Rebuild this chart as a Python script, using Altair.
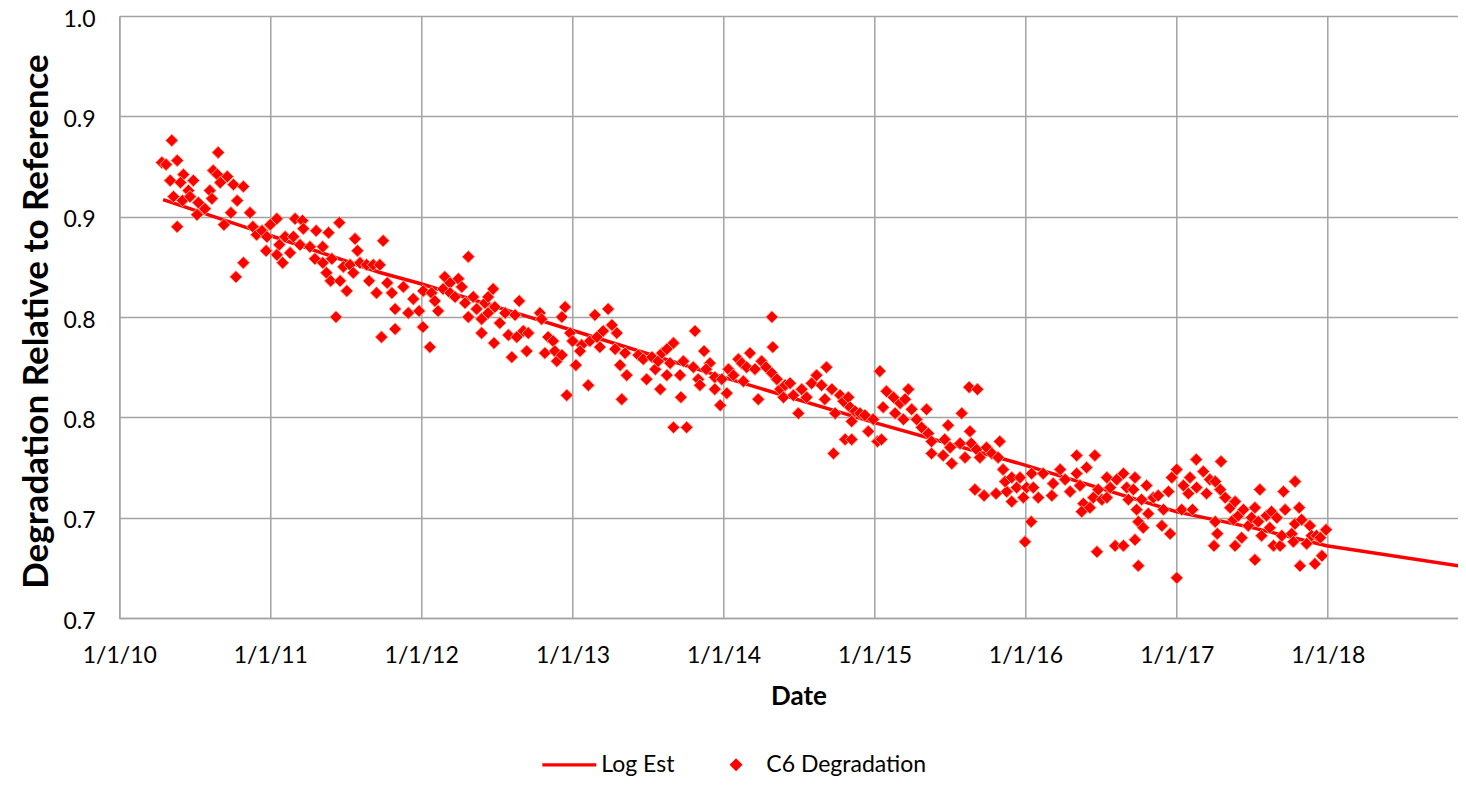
import altair as alt
import pandas as pd

# ---------------- data ----------------
# C6 Degradation points: time offset in years since 1/1/2010, and value
c6_year_offset = [
    0.281, 0.309, 0.347, 0.384, 0.655, 0.336, 0.424, 0.406, 0.490, 0.457,
    0.358, 0.420, 0.468, 0.523, 0.567, 0.516, 0.600, 0.612, 0.622, 0.649,
    0.715, 0.667, 0.755, 0.821, 0.781, 0.738, 0.693, 0.384, 0.865, 0.821,
    0.773, 0.883, 0.910, 0.945, 0.978, 0.998, 1.042, 0.971, 1.042, 1.082,
    1.097, 1.059, 1.130, 1.152, 1.163, 1.214, 1.218, 1.196, 1.262, 1.302,
    1.347, 1.384, 1.456, 1.296, 1.347, 1.406, 1.373, 1.400, 1.461, 1.505,
    1.483, 1.527, 1.560, 1.576, 1.594, 1.549, 1.638, 1.655, 1.704, 1.682,
    1.726, 1.748, 1.774, 1.803, 1.825, 1.737, 1.825, 1.435, 2.311, 1.880,
    1.913, 1.946, 1.986, 2.009, 2.057, 2.013, 2.068, 2.090, 2.112, 2.156,
    2.145, 2.189, 2.189, 2.222, 2.244, 2.267, 2.289, 2.311, 2.344, 2.366,
    2.399, 2.399, 2.421, 2.443, 2.476, 2.443, 2.487, 2.481, 2.520, 2.554,
    2.575, 2.620, 2.648, 2.598, 2.631, 2.675, 2.708, 2.697, 2.785, 2.796,
    2.818, 2.840, 2.873, 2.884, 2.896, 2.929, 2.951, 2.929, 2.962, 2.984,
    3.002, 3.023, 3.061, 3.050, 3.105, 3.116, 3.149, 3.161, 3.182, 3.204,
    3.237, 3.260, 3.293, 3.282, 3.315, 3.348, 3.359, 3.326, 3.436, 3.469,
    3.492, 3.525, 3.547, 3.568, 3.580, 3.591, 3.624, 3.668, 3.646, 3.624,
    3.668, 3.712, 3.717, 3.734, 3.756, 3.811, 3.800, 3.833, 3.844, 3.871,
    3.911, 3.884, 3.943, 3.943, 3.977, 3.988, 4.021, 4.032, 4.065, 4.098,
    4.120, 4.131, 4.175, 4.154, 4.209, 4.230, 4.253, 4.281, 4.319, 4.326,
    4.319, 4.352, 4.374, 4.407, 4.396, 4.440, 4.462, 4.495, 4.518, 4.551,
    4.584, 4.617, 4.650, 4.683, 4.672, 4.716, 4.738, 4.771, 4.793, 4.826,
    4.837, 4.804, 4.849, 4.727, 4.871, 4.849, 4.904, 4.937, 4.959, 4.992,
    5.018, 5.036, 5.058, 5.080, 5.124, 5.135, 5.047, 5.168, 5.190, 5.223,
    5.202, 5.246, 5.279, 5.312, 5.345, 5.356, 5.378, 5.378, 5.455, 5.466,
    5.488, 5.499, 5.511, 5.577, 5.566, 5.599, 5.627, 5.680, 5.632, 5.640,
    5.676, 5.698, 5.742, 5.776, 5.830, 5.819, 5.852, 5.665, 5.725, 5.804,
    5.875, 5.908, 5.864, 5.908, 5.941, 5.963, 5.985, 6.007, 6.040, 6.051,
    6.084, 6.036, 5.996, 6.117, 6.173, 6.183, 6.228, 6.261, 6.294, 6.338,
    6.338, 6.459, 6.404, 6.360, 6.382, 6.371, 6.426, 6.448, 6.481, 6.471,
    6.504, 6.537, 6.537, 6.559, 6.603, 6.592, 6.647, 6.647, 6.669, 6.680,
    6.724, 6.735, 6.724, 6.746, 6.746, 6.713, 6.769, 6.779, 6.802, 6.812,
    6.845, 6.878, 6.901, 6.912, 6.945, 6.956, 6.967, 7.000, 7.000, 7.033,
    7.044, 7.088, 7.077, 7.106, 7.128, 7.133, 7.176, 7.199, 7.221, 7.254,
    7.254, 7.269, 7.248, 7.295, 7.288, 7.321, 7.353, 7.386, 7.375, 7.386,
    7.408, 7.431, 7.441, 7.474, 7.497, 7.519, 7.519, 7.552, 7.541, 7.563,
    7.596, 7.629, 7.618, 7.640, 7.662, 7.684, 7.695, 7.706, 7.717, 7.762,
    7.772, 7.783, 7.812, 7.783, 7.817, 7.828, 7.861, 7.883, 7.894, 7.916,
    7.927, 7.950, 7.961, 7.989,
]
c6_value = [
    0.877, 0.876, 0.888, 0.878, 0.882, 0.868, 0.871, 0.867, 0.868, 0.863,
    0.860, 0.858, 0.860, 0.857, 0.854, 0.851, 0.863, 0.859, 0.873, 0.871,
    0.870, 0.867, 0.866, 0.865, 0.858, 0.852, 0.846, 0.845, 0.852, 0.827,
    0.820, 0.845, 0.841, 0.843, 0.840, 0.846, 0.849, 0.833, 0.831, 0.827,
    0.840, 0.836, 0.832, 0.840, 0.849, 0.848, 0.844, 0.836, 0.835, 0.843,
    0.835, 0.842, 0.847, 0.829, 0.827, 0.829, 0.822, 0.818, 0.818, 0.813,
    0.825, 0.826, 0.839, 0.833, 0.827, 0.822, 0.826, 0.818, 0.812, 0.826,
    0.826, 0.838, 0.817, 0.812, 0.804, 0.790, 0.794, 0.800, 0.830, 0.815,
    0.802, 0.809, 0.803, 0.795, 0.785, 0.813, 0.812, 0.808, 0.803, 0.820,
    0.814, 0.817, 0.812, 0.810, 0.819, 0.815, 0.807, 0.800, 0.810, 0.804,
    0.799, 0.792, 0.807, 0.802, 0.814, 0.810, 0.805, 0.787, 0.797, 0.802,
    0.791, 0.801, 0.808, 0.780, 0.790, 0.793, 0.792, 0.783, 0.802, 0.799,
    0.782, 0.790, 0.788, 0.783, 0.778, 0.800, 0.805, 0.781, 0.761, 0.792,
    0.788, 0.776, 0.786, 0.783, 0.766, 0.788, 0.801, 0.790, 0.785, 0.793,
    0.804, 0.796, 0.792, 0.784, 0.776, 0.782, 0.771, 0.759, 0.781, 0.779,
    0.769, 0.780, 0.774, 0.778, 0.764, 0.782, 0.784, 0.787, 0.777, 0.771,
    0.745, 0.771, 0.760, 0.778, 0.745, 0.793, 0.775, 0.769, 0.766, 0.783,
    0.777, 0.774, 0.770, 0.764, 0.756, 0.769, 0.762, 0.774, 0.771, 0.779,
    0.777, 0.768, 0.782, 0.775, 0.774, 0.759, 0.778, 0.775, 0.800, 0.785,
    0.772, 0.769, 0.764, 0.766, 0.760, 0.767, 0.761, 0.752, 0.764, 0.760,
    0.767, 0.771, 0.766, 0.775, 0.759, 0.764, 0.752, 0.761, 0.758, 0.760,
    0.755, 0.739, 0.739, 0.732, 0.753, 0.748, 0.752, 0.751, 0.743, 0.749,
    0.738, 0.773, 0.755, 0.763, 0.760, 0.752, 0.739, 0.757, 0.749, 0.764,
    0.759, 0.754, 0.749, 0.745, 0.754, 0.742, 0.738, 0.732, 0.731, 0.739,
    0.746, 0.735, 0.727, 0.752, 0.737, 0.730, 0.765, 0.764, 0.743, 0.737,
    0.734, 0.730, 0.735, 0.732, 0.738, 0.730, 0.724, 0.714, 0.711, 0.712,
    0.713, 0.708, 0.718, 0.720, 0.715, 0.720, 0.710, 0.715, 0.722, 0.715,
    0.710, 0.698, 0.688, 0.722, 0.711, 0.717, 0.724, 0.719, 0.713, 0.722,
    0.731, 0.731, 0.725, 0.716, 0.707, 0.703, 0.705, 0.710, 0.714, 0.683,
    0.709, 0.720, 0.710, 0.715, 0.719, 0.686, 0.686, 0.722, 0.715, 0.709,
    0.720, 0.704, 0.689, 0.676, 0.698, 0.714, 0.709, 0.695, 0.716, 0.702,
    0.710, 0.711, 0.696, 0.704, 0.713, 0.692, 0.720, 0.724, 0.670, 0.704,
    0.716, 0.720, 0.712, 0.704, 0.729, 0.715, 0.723, 0.712, 0.719, 0.718,
    0.698, 0.692, 0.686, 0.728, 0.714, 0.710, 0.705, 0.708, 0.699, 0.686,
    0.701, 0.690, 0.704, 0.696, 0.700, 0.705, 0.679, 0.714, 0.698, 0.691,
    0.701, 0.703, 0.695, 0.686, 0.700, 0.686, 0.691, 0.713, 0.704, 0.692,
    0.688, 0.718, 0.705, 0.697, 0.676, 0.699, 0.687, 0.696, 0.691, 0.677,
    0.691, 0.690, 0.681, 0.694,
]

# Log Est trend line
log_est_year_offset = [0.289, 0.998, 1.726, 1.991, 2.997, 3.996, 4.989,
                       5.996, 7.002, 7.507, 7.992, 8.913]
log_est_value = [0.8585, 0.8406, 0.8222, 0.8167, 0.7934, 0.7700, 0.7476,
                 0.7262, 0.7029, 0.6949, 0.6860, 0.6755]

legend_labels = ["Log Est", "C6 Degradation"]
year_ticks = [2010, 2011, 2012, 2013, 2014, 2015, 2016, 2017, 2018]
y_ticks = [0.65, 0.70, 0.75, 0.80, 0.85, 0.90, 0.95]

# ---------------- tables ----------------
START = pd.Timestamp("2010-01-01")


def to_dates(offsets):
    return [START + pd.Timedelta(days=round(o * 365.25)) for o in offsets]


points_df = pd.DataFrame({"date": to_dates(c6_year_offset), "value": c6_value})
line_df = pd.DataFrame({"date": to_dates(log_est_year_offset), "value": log_est_value})
legend_df = pd.DataFrame({"series": legend_labels})

# ---------------- styling ----------------
FONT = "Lato"
RED = "#ff0000"
EDGE = "#f4a688"
GRID = "#a3a3a3"
# legend symbols (filled shapes, unit box scaled by sqrt(size)/2)
LINE_SYM = "M-7.3,-0.25L1,-0.25L1,0.25L-7.3,0.25Z"
DIAMOND_SYM = "M-3.88,0L-2.88,-1L-1.88,0L-2.88,1Z"

PLOT_W = 1338.7
PLOT_H = 602

x_scale = alt.Scale(
    domain=[alt.DateTime(year=2010, month=1, date=1),
            alt.DateTime(year=2018, month=11, date=12)],
    nice=False,
)
y_scale = alt.Scale(domain=[0.65, 0.95], nice=False, zero=False)

x_axis = alt.Axis(
    values=[alt.DateTime(year=y, month=1, date=1) for y in year_ticks],
    format="%-m/%-d/%y",
    title="Date",
    grid=True,
    ticks=False,
    labelFlush=False,
    labelOverlap=False,
    labelPadding=44,
    labelBaseline="alphabetic",
    labelFont=FONT,
    labelFontSize=23,
    labelColor="#000000",
    titleFont=FONT,
    titleFontSize=26,
    titleFontWeight="bold",
    titleColor="#000000",
    titleX=679.2,
    titleY=86.7,
    titleBaseline="alphabetic",
    titleAlign="center",
)

y_axis = alt.Axis(
    values=y_ticks,
    labelExpr="format(round(datum.value * 10) / 10, '.1f')",
    title="Degradation Relative to Reference",
    grid=True,
    ticks=False,
    labelFlush=False,
    labelOverlap=False,
    labelPadding=24.3,
    labelOffset=3,
    labelFont=FONT,
    labelFontSize=23,
    labelColor="#000000",
    titleFont=FONT,
    titleFontSize=35,
    titleFontWeight="bold",
    titleColor="#000000",
    titleAngle=270,
    titleX=-72,
    titleY=PLOT_H / 2 + 4,
    titleBaseline="alphabetic",
    titleAlign="center",
)

line = alt.Chart(line_df).mark_line(color=RED, strokeWidth=3.5, clip=True).encode(
    x=alt.X("date:T", scale=x_scale, axis=x_axis),
    y=alt.Y("value:Q", scale=y_scale, axis=y_axis),
)

points = alt.Chart(points_df).mark_point(
    shape="diamond", filled=True, fill=RED, stroke=EDGE, strokeWidth=1,
    size=155, opacity=1, strokeOpacity=1, fillOpacity=1, clip=True,
).encode(
    x=alt.X("date:T", scale=x_scale, axis=x_axis),
    y=alt.Y("value:Q", scale=y_scale, axis=y_axis),
)

legend_layer = alt.Chart(legend_df).mark_point(
    opacity=0, filled=True, color=RED
).encode(
    shape=alt.Shape(
        "series:N",
        scale=alt.Scale(domain=legend_labels, range=[LINE_SYM, DIAMOND_SYM]),
        legend=alt.Legend(
            orient="none",
            legendX=459,
            legendY=737,
            direction="horizontal",
            title=None,
            symbolSize=169,
            symbolFillColor=RED,
            symbolStrokeColor=RED,
            symbolStrokeWidth=0,
            symbolOpacity=1,
            labelFont=FONT,
            labelFontSize=23,
            labelColor="#000000",
            labelOffset=0,
            columnPadding=54,
            padding=0,
        ),
    )
)

chart = (
    alt.layer(line, points, legend_layer)
    .properties(
        width=PLOT_W,
        height=PLOT_H,
        autosize=alt.AutoSizeParams(type="none"),
        padding={"left": 111.3, "top": 8, "right": 0, "bottom": 160},
        background="#ffffff",
    )
    .configure_view(stroke=None)
    .configure_axis(
        gridColor=GRID,
        gridWidth=1.5,
        gridOpacity=1,
        domainColor=GRID,
        domainWidth=1.5,
    )
)

chart.save("out.html", embed_options={"renderer": "svg", "actions": False})
